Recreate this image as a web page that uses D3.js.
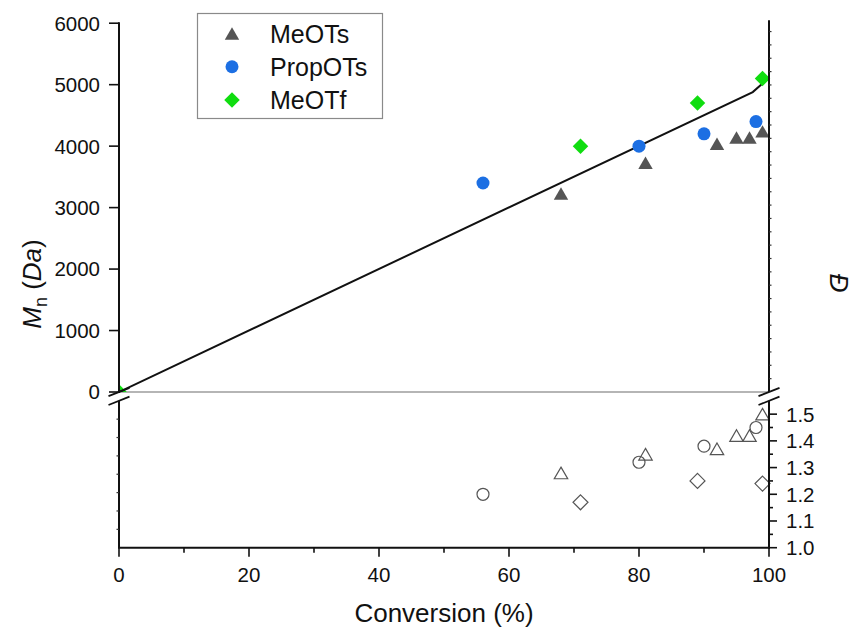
<!DOCTYPE html>
<html>
<head>
<meta charset="utf-8">
<script src="https://cdn.jsdelivr.net/npm/d3@7"></script>
<style>
  html, body { margin: 0; padding: 0; background: #fff; }
  svg { display: block; font-family: "Liberation Sans", Arial, sans-serif; }
</style>
</head>
<body>
<svg id="chart" width="853" height="633"></svg>
<script>
// ---- data ----
const xTicks = [0, 20, 40, 60, 80, 100];
const mnTicks = [0, 1000, 2000, 3000, 4000, 5000, 6000];
const dispTicks = [1.0, 1.1, 1.2, 1.3, 1.4, 1.5];

// theoretical Mn vs conversion
const lineConv = [0, 97.5, 99];
const lineMn = [0, 4880, 5020];

const meotsConv = [68, 81, 92, 95, 97, 99];
const meotsMn = [3230, 3730, 4040, 4140, 4140, 4240];
const meotsD = [1.28, 1.35, 1.37, 1.42, 1.42, 1.50];

const propConv = [56, 80, 90, 98];
const propMn = [3400, 4000, 4200, 4400];
const propD = [1.20, 1.32, 1.38, 1.45];

const meotfConv = [0, 71, 89, 99];
const meotfMn = [0, 4000, 4700, 5100];
const meotfD = [null, 1.17, 1.25, 1.24];

const seriesNames = ["MeOTs", "PropOTs", "MeOTf"];

// ---- layout ----
const X0 = 119, X1 = 769;
const upperTop = 23.2, upperBottom = 392;
const lowerTop = 400.8, lowerBottom = 547.7;

const svg = d3.select("#chart");
const x = d3.scaleLinear().domain([0, 100]).range([X0, X1]);
const yMn = d3.scaleLinear().domain([0, 6000]).range([upperBottom, upperTop]);
const yD = d3.scaleLinear().domain([1.0, 1.55]).range([lowerBottom, lowerTop]);

const colTri = "#555555", colBlue = "#1c6fe3", colGreen = "#10dd10";
const tickFont = "20.5px";

// triangle centred on its bounding box
const triType = {
  draw(ctx, size) {
    const w = Math.sqrt(size * 4 / Math.sqrt(3));
    const h = w * Math.sqrt(3) / 2;
    ctx.moveTo(0, -h / 2);
    ctx.lineTo(w / 2, h / 2);
    ctx.lineTo(-w / 2, h / 2);
    ctx.closePath();
  }
};
const sym = {
  tri: d3.symbol().type(triType).size(90),
  circ: d3.symbol().type(d3.symbolCircle).size(133),
  dia: d3.symbol().type(d3.symbolDiamond2 || d3.symbolSquare2).size(115),
  triO: d3.symbol().type(triType).size(78),
  circO: d3.symbol().type(d3.symbolCircle).size(113),
  diaO: d3.symbol().type(d3.symbolDiamond2 || d3.symbolSquare2).size(110)
};
function diamondPath(size) {
  const r = Math.sqrt(size / 2);
  return `M0,${-r}L${r},0L0,${r}L${-r},0Z`;
}

// clip for plotted marks
svg.append("clipPath").attr("id", "clipUpper")
  .append("rect").attr("x", X0).attr("y", 0).attr("width", X1 - X0 + 12).attr("height", upperBottom);

// ---- gray baseline at the break ----
svg.append("line")
  .attr("x1", X0).attr("x2", X1).attr("y1", yMn(0)).attr("y2", yMn(0))
  .attr("stroke", "#9c9c9c").attr("stroke-width", 1.6);

// ---- upper panel: Mn ----
const gU = svg.append("g").attr("clip-path", "url(#clipUpper)");

// MeOTf at origin sits under everything else
gU.selectAll(".dia0").data(meotfConv.map((c, i) => [c, meotfMn[i]]).filter(d => d[0] === 0))
  .join("path").attr("d", diamondPath(120))
  .attr("transform", d => `translate(${x(d[0])},${yMn(d[1])})`)
  .attr("fill", colGreen);

const line = d3.line().x(d => x(d[0])).y(d => yMn(d[1]));
gU.append("path")
  .datum(lineConv.map((c, i) => [c, lineMn[i]]))
  .attr("d", line).attr("fill", "none").attr("stroke", "#111").attr("stroke-width", 2);

gU.selectAll(".tri").data(meotsConv.map((c, i) => [c, meotsMn[i]]))
  .join("path").attr("d", sym.tri())
  .attr("transform", d => `translate(${x(d[0])},${yMn(d[1])})`)
  .attr("fill", colTri);

gU.selectAll(".circ").data(propConv.map((c, i) => [c, propMn[i]]))
  .join("path").attr("d", sym.circ())
  .attr("transform", d => `translate(${x(d[0])},${yMn(d[1])})`)
  .attr("fill", colBlue);

gU.selectAll(".dia").data(meotfConv.map((c, i) => [c, meotfMn[i]]).filter(d => d[0] !== 0))
  .join("path").attr("d", diamondPath(120))
  .attr("transform", d => `translate(${x(d[0])},${yMn(d[1])})`)
  .attr("fill", colGreen);

// ---- lower panel: dispersity ----
const gL = svg.append("g").attr("fill", "none").attr("stroke", "#555").attr("stroke-width", 1.2);
gL.selectAll(".triO").data(meotsConv.map((c, i) => [c, meotsD[i]]))
  .join("path").attr("d", sym.triO())
  .attr("transform", d => `translate(${x(d[0])},${yD(d[1])})`);
gL.selectAll(".circO").data(propConv.map((c, i) => [c, propD[i]]))
  .join("path").attr("d", sym.circO())
  .attr("transform", d => `translate(${x(d[0])},${yD(d[1])})`);
gL.selectAll(".diaO").data(meotfConv.map((c, i) => [c, meotfD[i]]).filter(d => d[1] != null))
  .join("path").attr("d", diamondPath(112))
  .attr("transform", d => `translate(${x(d[0])},${yD(d[1])})`);

// ---- axes ----
const axisStroke = 2;

// bottom x axis
const xAxis = svg.append("g").attr("transform", `translate(0,${lowerBottom})`);
xAxis.append("line").attr("x1", X0 - 1).attr("x2", X1 + 1).attr("stroke", "#111").attr("stroke-width", axisStroke);
xAxis.selectAll(".minor").data(d3.range(10, 100, 20)).join("line")
  .attr("x1", d => x(d)).attr("x2", d => x(d)).attr("y1", 0).attr("y2", 5)
  .attr("stroke", "#111").attr("stroke-width", 1.6);
xAxis.selectAll(".major").data(xTicks).join("line")
  .attr("x1", d => x(d)).attr("x2", d => x(d)).attr("y1", 0).attr("y2", 9)
  .attr("stroke", "#111").attr("stroke-width", 1.6);
xAxis.selectAll("text").data(xTicks).join("text")
  .attr("x", d => x(d)).attr("y", 34.5).attr("text-anchor", "middle")
  .style("font-size", tickFont).attr("fill", "#111").text(d => d);

// left axis, upper segment (Mn)
const lU = svg.append("g");
lU.append("line").attr("x1", X0).attr("x2", X0).attr("y1", upperTop - 1).attr("y2", upperBottom + 1)
  .attr("stroke", "#111").attr("stroke-width", axisStroke);
lU.selectAll(".major").data(mnTicks).join("line")
  .attr("x1", X0 - 10).attr("x2", X0).attr("y1", d => yMn(d)).attr("y2", d => yMn(d))
  .attr("stroke", "#111").attr("stroke-width", 1.6);
lU.selectAll("text").data(mnTicks).join("text")
  .attr("x", X0 - 19).attr("y", d => yMn(d)).attr("dy", "0.36em").attr("text-anchor", "end")
  .style("font-size", tickFont).attr("fill", "#111").text(d => d);

// left axis, lower segment
const leftLow = d3.scaleLinear().domain([0, 8]).range([lowerBottom, lowerTop]);
svg.append("line").attr("x1", X0).attr("x2", X0).attr("y1", lowerTop).attr("y2", lowerBottom)
  .attr("stroke", "#111").attr("stroke-width", axisStroke);
svg.selectAll(".llt").data(d3.range(1, 8)).join("line")
  .attr("x1", X0 - 2.5).attr("x2", X0).attr("y1", d => leftLow(d)).attr("y2", d => leftLow(d))
  .attr("stroke", "#333").attr("stroke-width", 1.2);

// right axis, lower segment (dispersity)
const rL = svg.append("g");
rL.append("line").attr("x1", X1).attr("x2", X1).attr("y1", lowerTop).attr("y2", lowerBottom + 1)
  .attr("stroke", "#111").attr("stroke-width", axisStroke);
rL.selectAll(".minor").data(d3.range(1.05, 1.5, 0.1)).join("line")
  .attr("x1", X1).attr("x2", X1 + 4).attr("y1", d => yD(d)).attr("y2", d => yD(d))
  .attr("stroke", "#111").attr("stroke-width", 1.6);
rL.selectAll(".major").data(dispTicks).join("line")
  .attr("x1", X1).attr("x2", X1 + 8).attr("y1", d => yD(d)).attr("y2", d => yD(d))
  .attr("stroke", "#111").attr("stroke-width", 1.6);
rL.selectAll("text").data(dispTicks).join("text")
  .attr("x", X1 + 17).attr("y", d => yD(d)).attr("dy", "0.36em").attr("text-anchor", "start")
  .style("font-size", tickFont).attr("fill", "#111").text(d => d.toFixed(1));

// right axis, upper segment
const rightUp = d3.scaleLinear().domain([0, 27]).range([upperBottom, upperBottom - 27 * 13.35]);
svg.append("line").attr("x1", X1).attr("x2", X1).attr("y1", upperTop - 3).attr("y2", upperBottom)
  .attr("stroke", "#111").attr("stroke-width", axisStroke);
svg.selectAll(".rut").data(d3.range(1, 28)).join("line")
  .attr("x1", X1).attr("x2", X1 + 2.5).attr("y1", d => rightUp(d)).attr("y2", d => rightUp(d))
  .attr("stroke", "#333").attr("stroke-width", 1.2);

// axis break marks
function breakMark(cx, cy) {
  const dx = 10.5, dy = 4.2;
  svg.append("line").attr("x1", cx - dx).attr("y1", cy + dy).attr("x2", cx + dx).attr("y2", cy - dy)
    .attr("stroke", "#111").attr("stroke-width", 1.8);
}
[X0, X1].forEach(cx => {
  breakMark(cx, upperBottom);
  breakMark(cx, lowerTop);
});

// ---- axis titles ----
svg.append("text")
  .attr("x", (X0 + X1) / 2).attr("y", 622).attr("text-anchor", "middle")
  .style("font-size", "26px").attr("fill", "#111").text("Conversion (%)");

const yt = svg.append("text")
  .attr("transform", "translate(41,284) rotate(-90)").attr("text-anchor", "middle")
  .style("font-size", "26px").attr("fill", "#111");
yt.append("tspan").style("font-style", "italic").text("M");
yt.append("tspan").attr("dy", 6).style("font-size", "18px").text("n");
yt.append("tspan").attr("dy", -6).text(" (");
yt.append("tspan").style("font-style", "italic").text("Da");
yt.append("tspan").text(")");

svg.append("text")
  .attr("transform", "translate(830,283) rotate(90)").attr("text-anchor", "middle")
  .style("font-size", "26px").style("font-style", "italic").attr("fill", "#111").text("Đ");

// ---- legend ----
const lg = svg.append("g");
lg.append("rect").attr("x", 197.5).attr("y", 13.5).attr("width", 185).attr("height", 105)
  .attr("fill", "#fff").attr("stroke", "#8a8a8a").attr("stroke-width", 1.2);
const legendSyms = [
  { name: seriesNames[0], d: sym.tri(), fill: colTri },
  { name: seriesNames[1], d: sym.circ(), fill: colBlue },
  { name: seriesNames[2], d: diamondPath(120), fill: colGreen }
];
const legendY = d3.scalePoint().domain(seriesNames).range([33.5, 100]);
legendSyms.forEach(s => {
  lg.append("path").attr("d", s.d).attr("fill", s.fill)
    .attr("transform", `translate(232,${legendY(s.name)})`);
  lg.append("text").attr("x", 270).attr("y", legendY(s.name)).attr("dy", "0.36em")
    .style("font-size", "25px").attr("fill", "#111").text(s.name);
});
</script>
</body>
</html>
